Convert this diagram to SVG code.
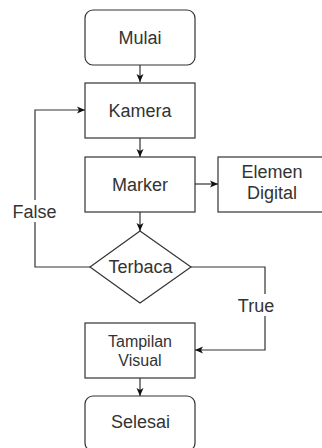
<svg xmlns="http://www.w3.org/2000/svg" width="322" height="448" viewBox="0 0 322 448">
  <style>
    .box { fill: #ffffff; stroke: #333333; stroke-width: 1.2; }
    .lbl { font-family: "Liberation Sans", Arial, sans-serif; font-size: 18px; fill: #333333; text-anchor: middle; }
    .sm { font-size: 16px; }
    .edge { fill: none; stroke: #333333; stroke-width: 1.2; marker-end: url(#arr); }
    .tag { fill: #ffffff; }
  </style>
  <defs>
    <marker id="arr" viewBox="0 0 8 8" refX="8" refY="4" markerWidth="8" markerHeight="8" markerUnits="userSpaceOnUse" orient="auto">
      <path d="M0,0.5 L8,4 L0,7.5 L2,4 Z" fill="#111111"/>
    </marker>
  </defs>
  <rect width="322" height="448" fill="#ffffff"/>

  <g id="connectors">
    <path class="edge" d="M140,65 V82"/>
    <path class="edge" d="M140,138 V157"/>
    <path class="edge" d="M195,184 H218"/>
    <path class="edge" d="M140,212 V231"/>
    <path class="edge" d="M90,267 H35 V110 H85"/>
    <path class="edge" d="M191,267 H265 V350 H195"/>
    <path class="edge" d="M140,378 V396"/>
    <rect class="tag" x="13" y="200" width="44" height="22"/>
    <text class="lbl" x="34.5" y="218">False</text>
    <rect class="tag" x="237" y="294" width="38" height="22"/>
    <text class="lbl" x="256" y="312">True</text>
  </g>

  <g id="mulai">
    <rect class="box" x="85" y="10" width="110" height="55" rx="8"/>
    <text class="lbl" x="140" y="43.5">Mulai</text>
  </g>
  <g id="kamera">
    <rect class="box" x="85" y="83" width="110" height="55"/>
    <text class="lbl" x="140" y="117">Kamera</text>
  </g>
  <g id="marker">
    <rect class="box" x="85" y="157" width="110" height="55"/>
    <text class="lbl" x="140" y="190.5">Marker</text>
  </g>
  <g id="elemen-digital">
    <rect class="box" x="218" y="157" width="110" height="55"/>
    <text class="lbl" x="272" y="178">Elemen</text>
    <text class="lbl" x="272" y="199">Digital</text>
  </g>
  <g id="terbaca">
    <polygon class="box" points="140,231 191,267 140,303 90,267"/>
    <text class="lbl" x="140.5" y="273">Terbaca</text>
  </g>
  <g id="tampilan-visual">
    <rect class="box" x="85" y="323" width="110" height="55"/>
    <text class="lbl sm" x="140" y="346.5">Tampilan</text>
    <text class="lbl sm" x="140" y="365.5">Visual</text>
  </g>
  <g id="selesai">
    <rect class="box" x="85" y="396" width="110" height="55" rx="8"/>
    <text class="lbl" x="140.5" y="427.5">Selesai</text>
  </g>
</svg>
